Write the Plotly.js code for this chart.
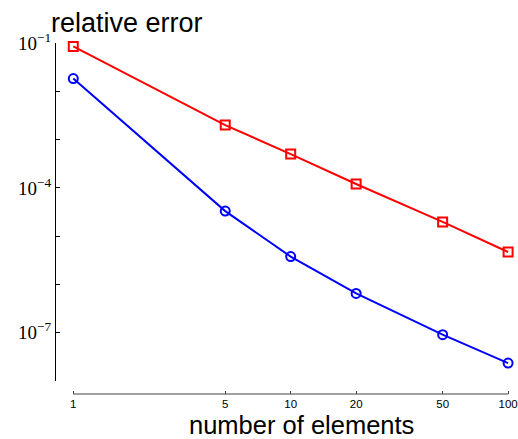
<!DOCTYPE html>
<html>
<head>
<meta charset="utf-8">
<script src="https://cdn.plot.ly/plotly-3.0.1.min.js"></script>
<style>
html,body{margin:0;padding:0;background:#fff;}
#chart{width:518px;height:439px;}
</style>
</head>
<body>
<div id="chart"></div>
<script>
// Data
const elements = [1, 5, 10, 20, 50, 100];
const errorSquares = [0.085, 2.0e-3, 5.0e-4, 1.2e-4, 1.97e-5, 4.7e-6];
const errorCircles = [1.83e-2, 3.3e-5, 3.77e-6, 6.5e-7, 9.1e-8, 2.35e-8];
const xTickVals = [1, 5, 10, 20, 50, 100];
const xTickText = ['1', '5', '10', '20', '50', '100'];
const yTickVals = [1e-7, 1e-4, 1e-1];
const yTickText = ['10<sup>\u22127</sup>', '10<sup>\u22124</sup>', '10<sup>\u22121</sup>'];
const yMinorVals = [1e-8, 1e-7, 1e-6, 1e-5, 1e-4, 1e-3, 1e-2, 1e-1];

const W = 518, H = 439;
const L = 56, R = 6, T = 43, B = 45;
const plotH = H - T - B;
const yBottomPx = 381;
const yDomLow = (H - B - yBottomPx) / plotH;

const traces = [
  {
    x: elements, y: errorSquares, type: 'scatter', mode: 'lines+markers',
    line: {color: '#ff0000', width: 2},
    marker: {symbol: 'square-open', size: 9, color: '#ff0000', line: {color: '#ff0000', width: 2}},
    showlegend: false, cliponaxis: false
  },
  {
    x: elements, y: errorCircles, type: 'scatter', mode: 'lines+markers',
    line: {color: '#0000ff', width: 2},
    marker: {symbol: 'circle-open', size: 9, color: '#0000ff', line: {color: '#0000ff', width: 2}},
    showlegend: false, cliponaxis: false
  }
];

function py(px) { return (H - B - px) / plotH; }
function pxr(px) { return (px - L) / (W - L - R); }

const layout = {
  width: W, height: H,
  margin: {l: L, r: R, t: T, b: B, pad: 0},
  paper_bgcolor: '#ffffff', plot_bgcolor: '#ffffff',
  showlegend: false,
  xaxis: {
    type: 'log',
    range: [-0.0795, 2.018],
    anchor: 'free', position: 0,
    tickmode: 'array', tickvals: xTickVals, ticktext: xTickText,
    ticks: 'inside', ticklen: 3, tickwidth: 1, tickcolor: '#444',
    ticklabelstandoff: 1, ticklabeloverflow: 'allow',
    showline: false, showgrid: false, zeroline: false,
    tickfont: {family: 'Liberation Sans, Arial, sans-serif', size: 11.5, color: '#000'}
  },
  yaxis: {
    type: 'log',
    range: [-8, -1],
    domain: [yDomLow, 1],
    tickmode: 'array', tickvals: yTickVals, ticktext: yTickText,
    ticks: 'inside', ticklen: 4, tickwidth: 1, tickcolor: '#000',
    minor: {tickmode: 'array', tickvals: yMinorVals, ticks: 'inside', ticklen: 4, tickwidth: 1, tickcolor: '#000', showgrid: false},
    showline: true, linecolor: '#000', linewidth: 1,
    showgrid: false, zeroline: false,
    tickfont: {family: 'Liberation Serif, Times New Roman, serif', size: 19, color: '#000'}
  },
  shapes: [
    {type: 'line', xref: 'x', yref: 'paper',
     x0: elements[0], x1: elements[elements.length - 1],
     y0: 0, y1: 0, line: {color: '#444', width: 1}}
  ],
  annotations: [
    {text: 'relative error', xref: 'paper', yref: 'paper', x: pxr(127), y: py(23),
     xanchor: 'center', yanchor: 'middle', showarrow: false,
     font: {family: 'Liberation Sans, Arial, sans-serif', size: 27, color: '#000'}},
    {text: 'number of elements', xref: 'paper', yref: 'paper', x: pxr(301), y: py(425.5),
     xanchor: 'center', yanchor: 'middle', showarrow: false,
     font: {family: 'Liberation Sans, Arial, sans-serif', size: 25.5, color: '#000'}}
  ]
};

Plotly.newPlot('chart', traces, layout, {displayModeBar: false, staticPlot: true});
</script>
</body>
</html>
